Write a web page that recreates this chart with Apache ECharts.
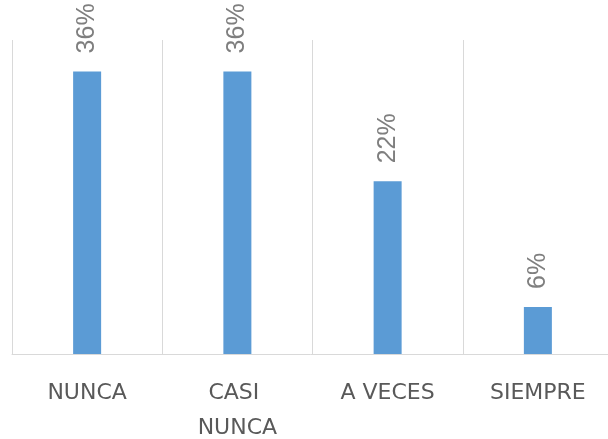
<!DOCTYPE html>
<html>
<head>
<meta charset="utf-8">
<script src="https://cdn.jsdelivr.net/npm/echarts@6/dist/echarts.min.js"></script>
<style>
    html, body { margin: 0; padding: 0; background: #fff; }
    #chart { width: 608px; height: 439px; }
</style>
</head>
<body>
<div id="chart"></div>
<script>
// categorias y porcentajes
const categories = ['NUNCA', 'CASI NUNCA', 'A VECES', 'SIEMPRE']
const percents = [36, 36, 22, 6]

const chart = echarts.init(document.getElementById('chart'))

let option = {
    animation: false,
    grid: {
        left: 12,
        right: -5,
        top: 40,
        bottom: 85,
        outerBoundsMode: 'none'
    },
    xAxis: {
        type: 'category',
        data: categories,
        axisTick: { show: false },
        axisLine: { lineStyle: { color: '#d9d9d9', width: 1 } },
        splitLine: { show: true, lineStyle: { color: '#d9d9d9', width: 1 } },
        axisLabel: {
            color: '#595959',
            fontFamily: 'DejaVu Sans',
            fontSize: 22,
            margin: 22,
            lineHeight: 35,
            width: 120,
            overflow: 'break',
            interval: 0
        }
    },
    yAxis: {
        type: 'value',
        min: 0,
        max: 40,
        show: false,
        splitLine: { show: false }
    },
    series: [
        {
            type: 'bar',
            data: percents,
            barWidth: 28,
            itemStyle: { color: '#5b9bd5' },
            label: {
                show: true,
                position: 'top',
                rotate: 90,
                align: 'left',
                verticalAlign: 'middle',
                distance: 18,
                color: '#7f7f7f',
                fontFamily: 'Liberation Sans',
                fontSize: 25,
                formatter: p => p.value + '%'
            }
        }
    ]
}
chart.setOption(option)
</script>
</body>
</html>
